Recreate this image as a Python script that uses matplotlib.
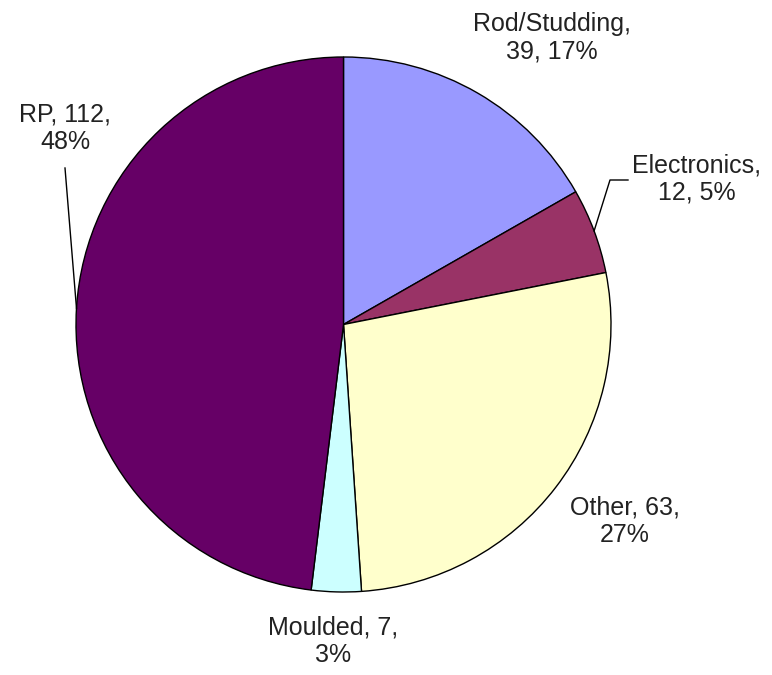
"""
Pie chart of job counts by category.
"""

import matplotlib.pyplot as plt
import numpy as np

categories = ["Rod/Studding", "Electronics", "Other", "Moulded", "RP"]
counts = [39, 12, 63, 7, 112]
colors = ["#9999FF", "#993366", "#FFFFCC", "#CCFFFF", "#660066"]
# break the label after the name (True) or after the count (False)
break_after_name = [True, True, False, False, False]

W, H = 772, 675


def main():
    plt.rcParams["font.family"] = ["Liberation Sans", "DejaVu Sans"]
    fig = plt.figure(figsize=(W / 100, H / 100), dpi=100)
    ax = fig.add_axes([0, 0, 1, 1])

    cx, cy, r = 343.5, H - 324.5, 267.5
    wedges, _ = ax.pie(counts, colors=colors, startangle=90, counterclock=False,
                       center=(cx, cy), radius=r,
                       wedgeprops=dict(edgecolor="black", linewidth=1.0))
    ax.set_xlim(0, W)
    ax.set_ylim(0, H)
    ax.set_aspect("auto")
    ax.axis("off")

    total = sum(counts)
    # label centres in pixel coords (x, y from top)
    label_pos = [(552, 38), (697, 179), (625, 521), (333, 641), (65, 128)]
    # leader line waypoints (after the wedge edge point), or None
    leaders = [None, [(610, 180), (628, 180)], None, None, [(65, 168)]]

    for i, (name, n) in enumerate(zip(categories, counts)):
        pct = round(100 * n / total)
        if break_after_name[i]:
            txt = f"{name},\n{n}, {pct}%"
        else:
            txt = f"{name}, {n},\n{pct}%"
        lx, ly = label_pos[i]
        ax.text(lx, H - ly, txt, ha="center", va="center", fontsize=18,
                color="#222222", linespacing=1.2)

        if leaders[i] is not None:
            w = wedges[i]
            mid = np.deg2rad((w.theta1 + w.theta2) / 2)
            xs = [cx + r * np.cos(mid)] + [p[0] for p in leaders[i]]
            ys = [cy + r * np.sin(mid)] + [H - p[1] for p in leaders[i]]
            ax.plot(xs, ys, color="black", linewidth=1.0)

    fig.savefig("out.png", dpi=100)


if __name__ == "__main__":
    main()
